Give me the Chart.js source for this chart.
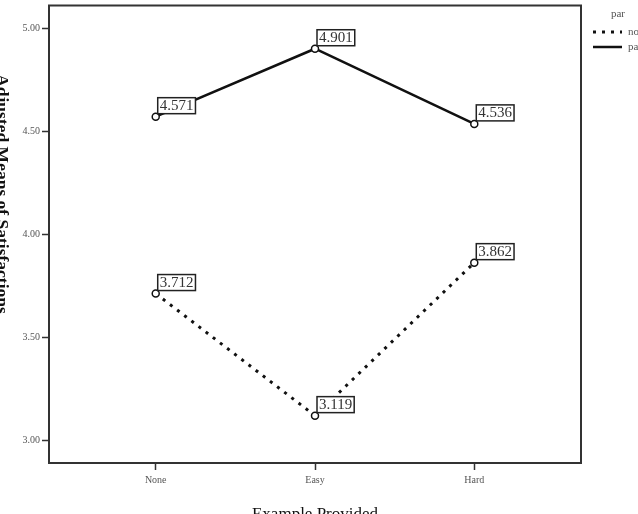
<!DOCTYPE html>
<html>
<head>
<meta charset="utf-8">
<script src="https://cdn.jsdelivr.net/npm/chart.js@4/dist/chart.umd.min.js"></script>
<style>
  html, body { margin: 0; padding: 0; background: #fff; }
  #wrap { width: 638px; height: 514px; position: relative; }
</style>
</head>
<body>
<div id="wrap"><canvas id="chart"></canvas></div>
<script>
// data
const categories = ['None', 'Easy', 'Hard'];
const parValues = [4.571, 4.901, 4.536];
const noparValues = [3.712, 3.119, 3.862];
const yTicks = [3.0, 3.5, 4.0, 4.5, 5.0];
const seriesNames = ['nopar', 'par'];

const SERIF = '"Liberation Serif", "DejaVu Serif", serif';

// frame around the plot area
const framePlugin = {
  id: 'frame',
  afterDraw(chart) {
    const { ctx, chartArea: a } = chart;
    ctx.save();
    ctx.strokeStyle = '#333';
    ctx.lineWidth = 2;
    ctx.strokeRect(a.left, a.top, a.right - a.left, a.bottom - a.top);
    ctx.restore();
  }
};

// boxed value labels next to each point
const boxLabelPlugin = {
  id: 'boxLabels',
  afterDatasetsDraw(chart) {
    const ctx = chart.ctx;
    ctx.save();
    ctx.font = '15px ' + SERIF;
    ctx.textBaseline = 'bottom';
    ctx.textAlign = 'left';
    chart.data.datasets.forEach((ds, i) => {
      chart.getDatasetMeta(i).data.forEach((pt, j) => {
        const txt = ds.data[j].y.toFixed(3);
        const w = ctx.measureText(txt).width + 4;
        const h = 16;
        const left = pt.x + 2;
        const bottom = pt.y - 3;
        ctx.fillStyle = '#fff';
        ctx.fillRect(left, bottom - h, w, h);
        ctx.strokeStyle = '#222';
        ctx.lineWidth = 1.5;
        ctx.strokeRect(left, bottom - h, w, h);
        ctx.fillStyle = '#333';
        ctx.fillText(txt, left + 2, bottom);
      });
    });
    ctx.restore();
  }
};

// axis titles and legend, placed like the original
const extrasPlugin = {
  id: 'extras',
  afterDraw(chart) {
    const ctx = chart.ctx;
    ctx.save();
    // y title, rotated clockwise and cut by the left edge
    ctx.fillStyle = '#111';
    ctx.font = 'bold 17.5px ' + SERIF;
    ctx.translate(-7, 194);
    ctx.rotate(Math.PI / 2);
    ctx.textAlign = 'center';
    ctx.textBaseline = 'bottom';
    ctx.fillText('Adjusted Means of Satisfactions', 0, 0);
    ctx.restore();

    ctx.save();
    ctx.fillStyle = '#111';
    ctx.font = '17px ' + SERIF;
    ctx.textAlign = 'center';
    ctx.textBaseline = 'top';
    ctx.fillText('Example Provided', 315, 506);

    // legend
    ctx.fillStyle = '#555';
    ctx.font = '11px ' + SERIF;
    ctx.textAlign = 'center';
    ctx.textBaseline = 'middle';
    ctx.fillText('par', 618, 14);
    ctx.textAlign = 'left';
    ctx.strokeStyle = '#111';
    ctx.lineWidth = 3;
    ctx.setLineDash([3, 6]);
    ctx.beginPath();
    ctx.moveTo(593, 32); ctx.lineTo(622, 32);
    ctx.stroke();
    ctx.setLineDash([]);
    ctx.lineWidth = 2.5;
    ctx.beginPath();
    ctx.moveTo(593, 47); ctx.lineTo(622, 47);
    ctx.stroke();
    ctx.fillText(seriesNames[0], 628, 32);
    ctx.fillText(seriesNames[1], 628, 47);
    ctx.restore();
  }
};

const toPoints = vals => vals.map((v, i) => ({ x: i, y: v }));

new Chart(document.getElementById('chart'), {
  type: 'line',
  data: {
    datasets: [
      {
        label: seriesNames[0],
        data: toPoints(noparValues),
        borderColor: '#111',
        borderWidth: 3,
        borderDash: [3, 6],
        pointRadius: 3.5,
        pointBackgroundColor: '#fff',
        pointBorderColor: '#111',
        pointBorderWidth: 1.5,
        tension: 0
      },
      {
        label: seriesNames[1],
        data: toPoints(parValues),
        borderColor: '#111',
        borderWidth: 2.5,
        pointRadius: 3.5,
        pointBackgroundColor: '#fff',
        pointBorderColor: '#111',
        pointBorderWidth: 1.5,
        tension: 0
      }
    ]
  },
  options: {
    responsive: true,
    maintainAspectRatio: false,
    animation: false,
    layout: { padding: { left: 0, right: 57, top: -1, bottom: 0 } },
    plugins: {
      legend: { display: false },
      tooltip: { enabled: false }
    },
    scales: {
      x: {
        type: 'linear',
        min: -0.67,
        max: 2.67,
        afterBuildTicks: s => { s.ticks = categories.map((c, i) => ({ value: i })); },
        afterFit: s => { s.height = 51; s.paddingLeft = 0; s.paddingRight = 0; },
        ticks: {
          callback: v => categories[v],
          color: '#555',
          font: { family: SERIF, size: 10 },
          padding: 4,
          maxRotation: 0
        },
        grid: { drawOnChartArea: false, tickLength: 7, color: '#333', tickWidth: 1.5 },
        border: { display: false }
      },
      y: {
        min: 2.889,
        max: 5.111,
        afterBuildTicks: s => { s.ticks = yTicks.map(v => ({ value: v })); },
        afterFit: s => { s.width = 49; s.paddingTop = 0; s.paddingBottom = 0; },
        ticks: {
          callback: v => Number(v).toFixed(2),
          color: '#555',
          font: { family: SERIF, size: 10 },
          padding: 2
        },
        grid: { drawOnChartArea: false, tickLength: 7, color: '#333', tickWidth: 1.5 },
        border: { display: false }
      }
    }
  },
  plugins: [framePlugin, boxLabelPlugin, extrasPlugin]
});
</script>
</body>
</html>
